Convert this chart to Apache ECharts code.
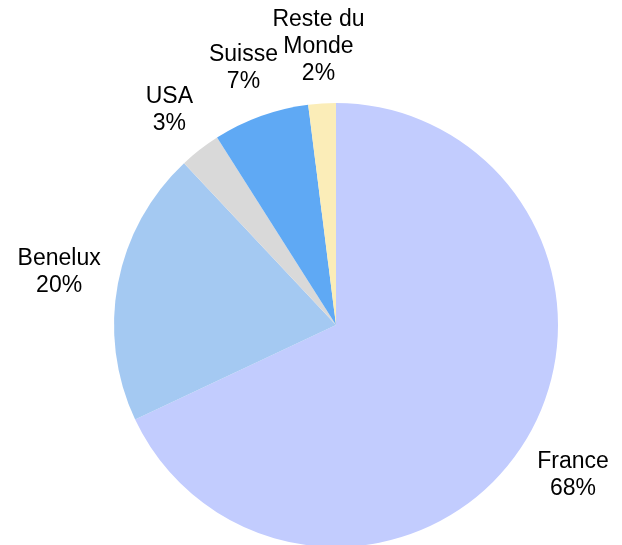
<!DOCTYPE html>
<html>
<head>
<meta charset="utf-8">
<script src="https://cdn.jsdelivr.net/npm/echarts@6/dist/echarts.min.js"></script>
<style>
  html, body { margin: 0; padding: 0; background: #fff; }
  #chart { width: 622px; height: 545px; }
</style>
</head>
<body>
<div id="chart"></div>
<script>
/*数据*/
const regions = ['France', 'Benelux', 'USA', 'Suisse', 'Reste du\nMonde']
const shares = [68, 20, 3, 7, 2]
const sliceColors = ['#C2CCFE', '#A4C9F2', '#D9D9D9', '#5FA9F4', '#FBEDB8']

/*饼图几何*/
const cx = 336
const cy = 325
const radius = 222
const gap = 14

const total = shares.reduce((a, b) => a + b, 0)

// 每块扇区中线角度（从12点钟方向顺时针）
const midAngle = (i) => {
  let before = 0
  for (let k = 0; k < i; k++) before += shares[k]
  return (before + shares[i] / 2) / total * Math.PI * 2
}

const chart = echarts.init(document.getElementById('chart'))

chart.setOption({
  animation: false,
  series: [{
    type: 'pie',
    center: [cx, cy],
    radius: radius,
    startAngle: 90,
    clockwise: true,
    silent: true,
    itemStyle: { borderWidth: 0 },
    label: {
      show: true,
      position: 'outside',
      formatter: '{b}\n{c}%',
      color: '#000',
      fontFamily: 'Liberation Sans, Arial, sans-serif',
      fontSize: 23,
      lineHeight: 27,
      overflow: 'none'
    },
    labelLine: { show: false },
    labelLayout: (params) => {
      const a = midAngle(params.dataIndex)
      const ux = Math.sin(a)
      const uy = -Math.cos(a)
      const hw = params.labelRect.width / 2
      const hh = params.labelRect.height / 2
      const d = radius + gap + hw * Math.abs(ux) + hh * Math.abs(uy)
      return {
        x: cx + ux * d,
        y: cy + uy * d,
        align: 'center',
        verticalAlign: 'middle'
      }
    },
    data: regions.map((name, i) => ({
      name: name,
      value: shares[i],
      itemStyle: { color: sliceColors[i] }
    }))
  }]
})
</script>
</body>
</html>
